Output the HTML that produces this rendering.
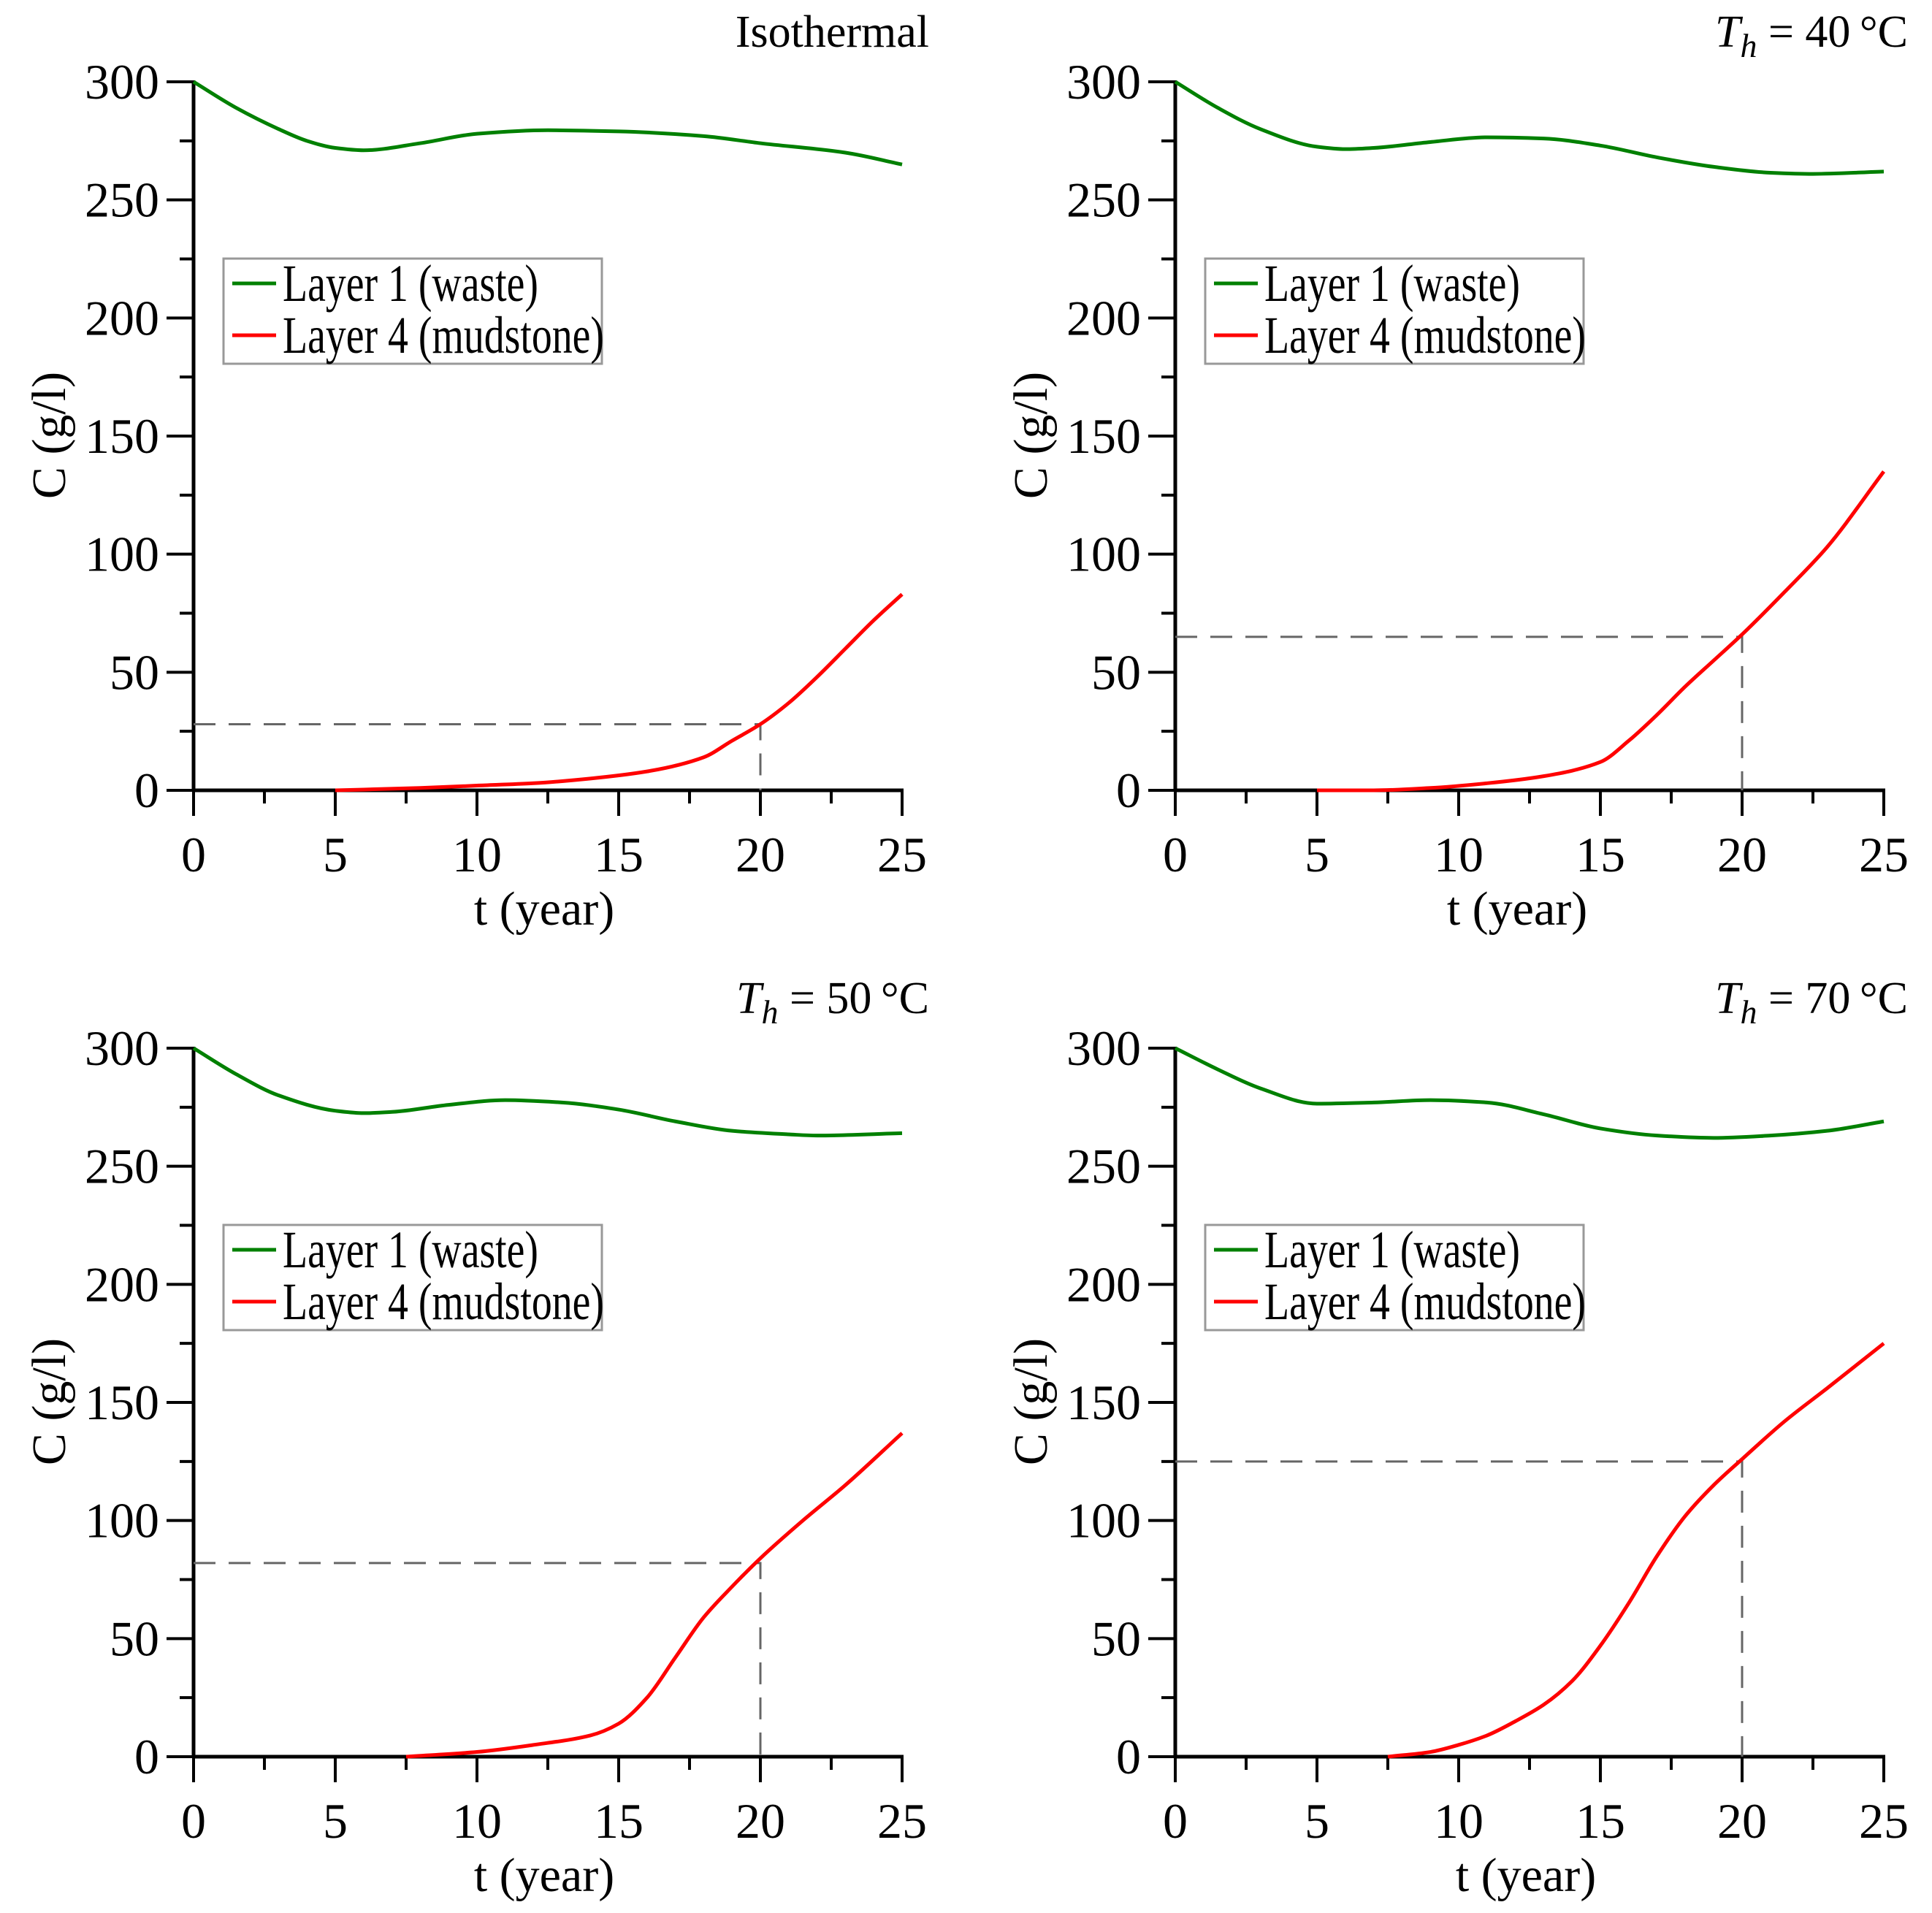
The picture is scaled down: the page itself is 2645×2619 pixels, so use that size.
<!DOCTYPE html>
<html><head><meta charset="utf-8"><style>
html,body{margin:0;padding:0;background:#fff}
svg{display:block}
text{font-family:"Liberation Serif",serif;fill:#000}
</style></head><body>
<svg id="fig" width="2645" height="2619" viewBox="0 0 2645 2619" xmlns="http://www.w3.org/2000/svg"></svg>
<script>
// ---- data ----
const panelTitles = ["Isothermal", "40", "50", "70"];
const dashedLevels = [28, 65, 82, 125];
const dashedTime = 20;
const xTicks = [0,5,10,15,20,25];
const yTicks = [0,50,100,150,200,250,300];
const legendLabels = ["Layer 1 (waste)", "Layer 4 (mudstone)"];

const greenT1 = [0,1.5,3,4,5,6,8,10,12.5,15,18,20,23,25];
const greenC1 = [300,289,280,275,272,271,274,278,279.5,279,277,274,270,265];
const redT1 = [5,8,10,12,14,16,18,19,20,21,22,23,24,25];
const redC1 = [0,1,2,3,5,8,14,21,28,37,48,60,72,83];

const greenT2 = [0,1.5,3,5,6,7,9,11,13,15,17,19,21,22.5,25];
const greenC2 = [300,289,280,272.5,271.5,272,274.5,276.5,276,273,268,264,261.5,261,262];
const redT2 = [5,7,9,11,13,15,16,17,18,19,20,21.5,23,25];
const redC2 = [0,0,1,3,6,12,21,32,44,55,66,84,103,135];

const greenT3 = [0,1.5,3,5,6,7,9,11,13,15,17,19,21,22,25];
const greenC3 = [300,289,280,273.5,272.5,273,276,278,277,274,269,265,263.5,263,264];
const redT3 = [7.5,10,12,14,15,16,17,18,19,20,21.5,23,25];
const redC3 = [0,2,5,9,14,25,42,59,72,84,100,115,137];

const greenT4 = [0,1.5,3,5,7,9,11,13,15,17,19,21,23,25];
const greenC4 = [300,291,283,276.5,277,278,277,272,266,263,262,263,265,269];
const redT4 = [7.5,9,10,11,12,13,14,15,16,17,18,19,20,21.5,23,25];
const redC4 = [0,2,5,9,15,22,32,47,65,85,102,115,126,142,156,175];

const greenT = [greenT1,greenT2,greenT3,greenT4];
const greenC = [greenC1,greenC2,greenC3,greenC4];
const redT = [redT1,redT2,redT3,redT4];
const redC = [redC1,redC2,redC3,redC4];

// ---- drawing ----
const NS = "http://www.w3.org/2000/svg";
const svg = document.getElementById('fig');
function mk(tag, attrs, parent){
  const e = document.createElementNS(NS, tag);
  for (const k in attrs) e.setAttribute(k, attrs[k]);
  (parent||svg).appendChild(e);
  return e;
}
function monoPath(pts){
  const n = pts.length, d=[], m=[];
  for (let i=0;i<n-1;i++) d.push((pts[i+1][1]-pts[i][1])/(pts[i+1][0]-pts[i][0]));
  m[0]=d[0]; m[n-1]=d[n-2];
  for (let i=1;i<n-1;i++){
    if (d[i-1]*d[i]<=0) m[i]=0;
    else { const h0=pts[i][0]-pts[i-1][0], h1=pts[i+1][0]-pts[i][0];
      const w1=2*h1+h0, w2=h1+2*h0; m[i]=(w1+w2)/(w1/d[i-1]+w2/d[i]); }
  }
  let s=`M${pts[0][0]},${pts[0][1]}`;
  for (let i=0;i<n-1;i++){
    const h=(pts[i+1][0]-pts[i][0])/3;
    s+=` C${pts[i][0]+h},${pts[i][1]+m[i]*h} ${pts[i+1][0]-h},${pts[i+1][1]-m[i+1]*h} ${pts[i+1][0]},${pts[i+1][1]}`;
  }
  return s;
}
const offX = [0,1344,0,1344], offY = [0,0,1323,1323];
for (let p=0;p<4;p++){
  const ox=offX[p], oy=offY[p];
  const X0=265+ox, X1=1235+ox, Y0=1082+oy, Y1=112+oy;
  const sx = t => X0 + (t/25)*(X1-X0);
  const sy = c => Y0 - (c/300)*(Y0-Y1);
  const g = mk('g',{});
  
  

  const tt = mk('text',{x:(p%2? 2612 : 1272),y:64+oy,'font-size':62,'text-anchor':'end'},g);
  if (p===0){
    tt.textContent = panelTitles[p];
  } else {
    const a = mk('tspan',{'font-style':'italic'},tt); a.textContent='T';
    const b = mk('tspan',{'font-style':'italic','font-size':46,dy:14},tt); b.textContent='h';
    const c = mk('tspan',{dy:-14},tt); c.textContent=' = '+panelTitles[p]+'\u2009°C';
  }
  
  

  for (let v=0; v<=300; v+=25){
    const major = v%50===0;
    const tk = mk('line',{x1:X0-(major?37:19),x2:X0,y1:sy(v),y2:sy(v),stroke:'#000','stroke-width':4},g);
    
    
  }
  for (let v=0; v<=25; v+=2.5){
    const major = v%5===0;
    const tk = mk('line',{x1:sx(v),x2:sx(v),y1:Y0,y2:Y0+(major?35:18),stroke:'#000','stroke-width':4},g);
    
    
  }
  const ya = mk('line',{x1:X0,x2:X0,y1:Y1-2,y2:Y0+2,stroke:'#000','stroke-width':5},g);
  
  
  const xa = mk('line',{x1:X0-2,x2:X1+2,y1:Y0,y2:Y0,stroke:'#000','stroke-width':5},g);
  
  
  yTicks.forEach(v=>{
    const t = mk('text',{x:X0-47,y:sy(v)+23,'font-size':68,'text-anchor':'end'},g);
    t.textContent = v;
    
    
  });
  xTicks.forEach(v=>{
    const t = mk('text',{x:sx(v),y:Y0+111,'font-size':68,'text-anchor':'middle'},g);
    t.textContent = v;
    
    
  });
  const xl = mk('text',{x:745+ox-(p===1?12:0),y:Y0+184,'font-size':66,'text-anchor':'middle'},g);
  xl.textContent = 't (year)';
  
  
  const yl = mk('text',{x:0,y:0,'font-size':66,'text-anchor':'middle',transform:`translate(${89+ox},${596+oy}) rotate(-90)`},g);
  yl.textContent = 'C (g/l)';
  
  

  const lvl = dashedLevels[p];
  const dl = mk('path',{d:`M${X0},${sy(lvl)} H${sx(dashedTime)} V${Y0}`,fill:'none',stroke:'#666','stroke-width':3,'stroke-dasharray':'30,18'},g);
  
  

  const gp = greenT[p].map((t,i)=>[sx(t),sy(greenC[p][i])]);
  const gl = mk('path',{d:monoPath(gp),fill:'none',stroke:'#008000','stroke-width':5},g);
  
  
  const rp = redT[p].map((t,i)=>[sx(t),sy(redC[p][i])]);
  const rl = mk('path',{d:monoPath(rp),fill:'none',stroke:'#ff0000','stroke-width':5},g);
  
  

  const lg = mk('g',{},g);
  
  
  mk('rect',{x:306+ox,y:354+oy,width:518,height:144,fill:'#fff',stroke:'#999','stroke-width':3},lg);
  const cols=['#008000','#ff0000'], ly=[388,459], tl=[350,440];
  for (let i=0;i<2;i++){
    const ll = mk('line',{x1:318+ox,x2:378+ox,y1:ly[i]+oy,y2:ly[i]+oy,stroke:cols[i],'stroke-width':5},lg);
    
    
    const lt = mk('text',{x:387+ox,y:ly[i]+oy+24,'font-size':72,textLength:tl[i],lengthAdjust:'spacingAndGlyphs'},lg);
    lt.textContent = legendLabels[i];
    
    
  }
}
</script>
</body></html>
